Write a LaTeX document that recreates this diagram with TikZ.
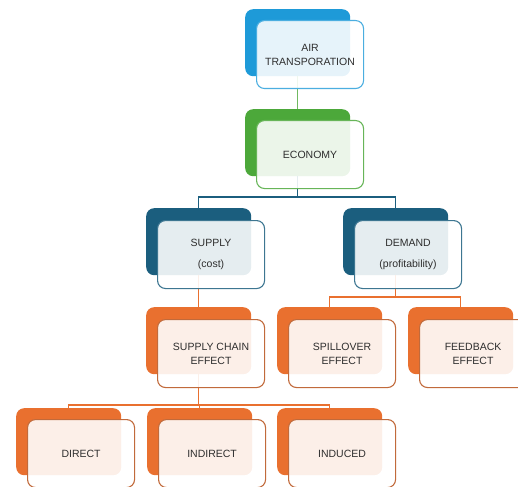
\documentclass[tikz,border=0pt]{standalone}
\usepackage{fontspec}
\setmainfont{Liberation Sans}
\usetikzlibrary{backgrounds}
\definecolor{cblue}{HTML}{1E9AD8}
\definecolor{cgreen}{HTML}{4CA83A}
\definecolor{cdark}{HTML}{1B5E7E}
\definecolor{corange}{HTML}{E9702F}
\definecolor{ctext}{HTML}{2E2E2E}
\tikzset{
  backbox/.style={rounded corners=8pt, fill=#1, draw=none, minimum width=105pt, minimum height=67pt, anchor=north west, inner sep=0pt},
  frontbox/.style={rounded corners=8pt, draw=#1, line width=1.1pt, fill=white, fill opacity=0.89, text opacity=1, minimum width=107pt, minimum height=68pt, anchor=north west, align=center, inner sep=0pt, text=ctext, font=\fontsize{10.5}{14}\selectfont},
  conn/.style={draw=#1, line width=1.1pt},
}
\begin{document}
\begin{tikzpicture}[x=1pt, y=-1pt]
\useasboundingbox (0,0) rectangle (518,486);
\begin{scope}
\clip (0,0) rectangle (518,486);
% back boxes
\node[backbox=cblue]   (airB)  at (245,9)   {};
\node[backbox=cgreen]  (ecoB)  at (245,109) {};
\node[backbox=cdark]   (supB)  at (146,208) {};
\node[backbox=cdark]   (demB)  at (343,208) {};
\node[backbox=corange] (chnB)  at (146,307) {};
\node[backbox=corange] (splB)  at (277,307) {};
\node[backbox=corange] (fdbB)  at (408,307) {};
\node[backbox=corange] (dirB)  at (16,408)  {};
\node[backbox=corange] (indB)  at (147,408) {};
\node[backbox=corange] (inuB)  at (277,408) {};
% connectors (behind the front boxes)
\coordinate (bus1) at (0,197);
\coordinate (bus2) at (0,297);
\coordinate (bus3) at (0,405);
\draw[conn=cgreen!80] (airB.south) -- (ecoB.north);
\draw[conn=cdark] (ecoB.south) -- (ecoB.south |- bus1);
\draw[conn=cdark] (supB.north) -- (supB.north |- bus1) -- (demB.north |- bus1) -- (demB.north);
\draw[conn=corange] (supB.south) -- (chnB.north);
\draw[conn=corange] (demB.south) -- (demB.south |- bus2);
\draw[conn=corange] (splB.north) -- (splB.north |- bus2) -- (fdbB.north |- bus2) -- (fdbB.north);
\draw[conn=corange] (chnB.south) -- (chnB.south |- bus3);
\draw[conn=corange] (dirB.north) -- (dirB.north |- bus3) -- (inuB.north |- bus3) -- (inuB.north);
\draw[conn=corange] (indB.north) -- (indB.north |- bus3);
% front boxes
\node[frontbox=cblue!80]   (air) at (256,20)  {AIR\\TRANSPORATION};
\node[frontbox=cgreen!85]  (eco) at (256,120) {ECONOMY};
\node[frontbox=cdark!85, font=\fontsize{10.5}{21}\selectfont]  (sup) at (157,220) {SUPPLY\\(cost)};
\node[frontbox=cdark!85, font=\fontsize{10.5}{21}\selectfont]  (dem) at (354,220) {DEMAND\\(profitability)};
\node[frontbox=corange!80!black!90] (chn) at (157,319) {SUPPLY CHAIN\\EFFECT};
\node[frontbox=corange!80!black!90] (spl) at (288,319) {SPILLOVER\\EFFECT};
\node[frontbox=corange!80!black!90] (fdb) at (419,319) {FEEDBACK\\EFFECT};
\node[frontbox=corange!80!black!90] (dir) at (27,419)  {DIRECT};
\node[frontbox=corange!80!black!90] (ind) at (158,419) {INDIRECT};
\node[frontbox=corange!80!black!90] (inu) at (288,419) {INDUCED};
\end{scope}
\end{tikzpicture}
\end{document}
